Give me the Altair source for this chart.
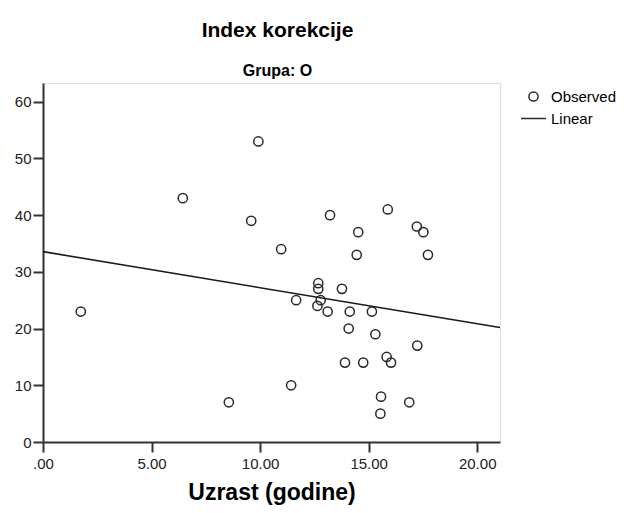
import altair as alt
import pandas as pd

age = [1.74, 6.44, 9.92, 9.59, 10.97, 8.56, 11.43, 11.66, 13.22, 14.45, 12.68,
       12.68, 13.77, 12.79, 12.64, 13.11, 14.13, 15.15, 14.08, 15.31, 17.24,
       13.91, 14.75, 15.83, 16.03, 15.57, 16.87, 15.54, 15.88, 14.52, 17.22,
       17.52, 17.73]
index_korekcije = [23, 43, 53, 39, 34, 7, 10, 25, 40, 33, 28,
                   27, 27, 25, 24, 23, 23, 23, 20, 19, 17,
                   14, 14, 15, 14, 8, 7, 5, 41, 37, 38,
                   37, 33]
series = ["Observed", "Linear"]
x_ticks = [0, 5, 10, 15, 20]
y_ticks = [0, 10, 20, 30, 40, 50, 60]
x_domain = [0, 21.05]
y_domain = [0, 63.3]

df = pd.DataFrame({"age": age, "index": index_korekcije, "series": series[0]})

FONT = "Liberation Sans"

x_scale = alt.Scale(domain=x_domain, nice=False, zero=False)
y_scale = alt.Scale(domain=y_domain, nice=False, zero=False)

x_axis = alt.Axis(
    values=x_ticks,
    labelExpr="datum.value === 0 ? '.00' : format(datum.value, '.2f')",
    title="Uzrast (godine)", titleFontSize=23, titleFontWeight="bold",
    titleColor="#000", titlePadding=10, titleFont=FONT,
    tickSize=10, tickWidth=2, tickColor="#333", domainWidth=2, domainColor="#333",
    labelFontSize=15, labelColor="#222", labelFont=FONT, labelPadding=4,
    labelFlush=False, grid=False,
)
y_axis = alt.Axis(
    values=y_ticks, title=None,
    tickSize=10, tickWidth=2, tickColor="#333", domainWidth=2, domainColor="#333",
    labelFontSize=15, labelColor="#222", labelFont=FONT, labelPadding=2,
    labelFlush=False, grid=False,
)

legend = alt.Legend(
    title=None, orient="none", legendX=477, legendY=6,
    labelFontSize=15, labelFont=FONT, labelColor="#000",
    symbolStrokeWidth=1.5, symbolStrokeColor="#2a2a2a",
    symbolFillColor="transparent", labelOffset=4, rowPadding=-6,
)

points = alt.Chart(df).mark_point(
    filled=False, stroke="#2a2a2a", strokeWidth=1.5, opacity=1
).encode(
    x=alt.X("age:Q", scale=x_scale, axis=x_axis),
    y=alt.Y("index:Q", scale=y_scale, axis=y_axis),
    shape=alt.Shape("series:N",
                    scale=alt.Scale(domain=series, range=["circle", "stroke"]),
                    legend=legend),
    size=alt.Size("series:N",
                  scale=alt.Scale(domain=series, range=[85, 625]),
                  legend=legend),
)

fit = alt.Chart(df).transform_regression(
    "age", "index", method="linear", extent=x_domain
).mark_line(color="#1a1a1a", strokeWidth=1.6).encode(
    x=alt.X("age:Q", scale=x_scale, axis=x_axis),
    y=alt.Y("index:Q", scale=y_scale, axis=y_axis),
)

chart = alt.layer(points, fit).properties(
    width=457, height=359,
    padding={"left": 35, "top": 75, "right": 123, "bottom": 63},
    autosize=alt.AutoSizeParams(type="none"),
    title=alt.Title(
        "Index korekcije", subtitle="Grupa: O",
        font=FONT, fontSize=21, fontWeight="bold", color="#000",
        subtitleFont=FONT, subtitleFontSize=16, subtitleFontWeight="bold",
        subtitleColor="#000", subtitlePadding=22,
        anchor="middle", frame="group", offset=4, dx=6,
    ),
).configure_view(
    fill="#f0f0f0", stroke="#3a3a3a", strokeWidth=1.5
).configure(background="white")

chart.save("out.html", embed_options={"renderer": "svg", "actions": False})
